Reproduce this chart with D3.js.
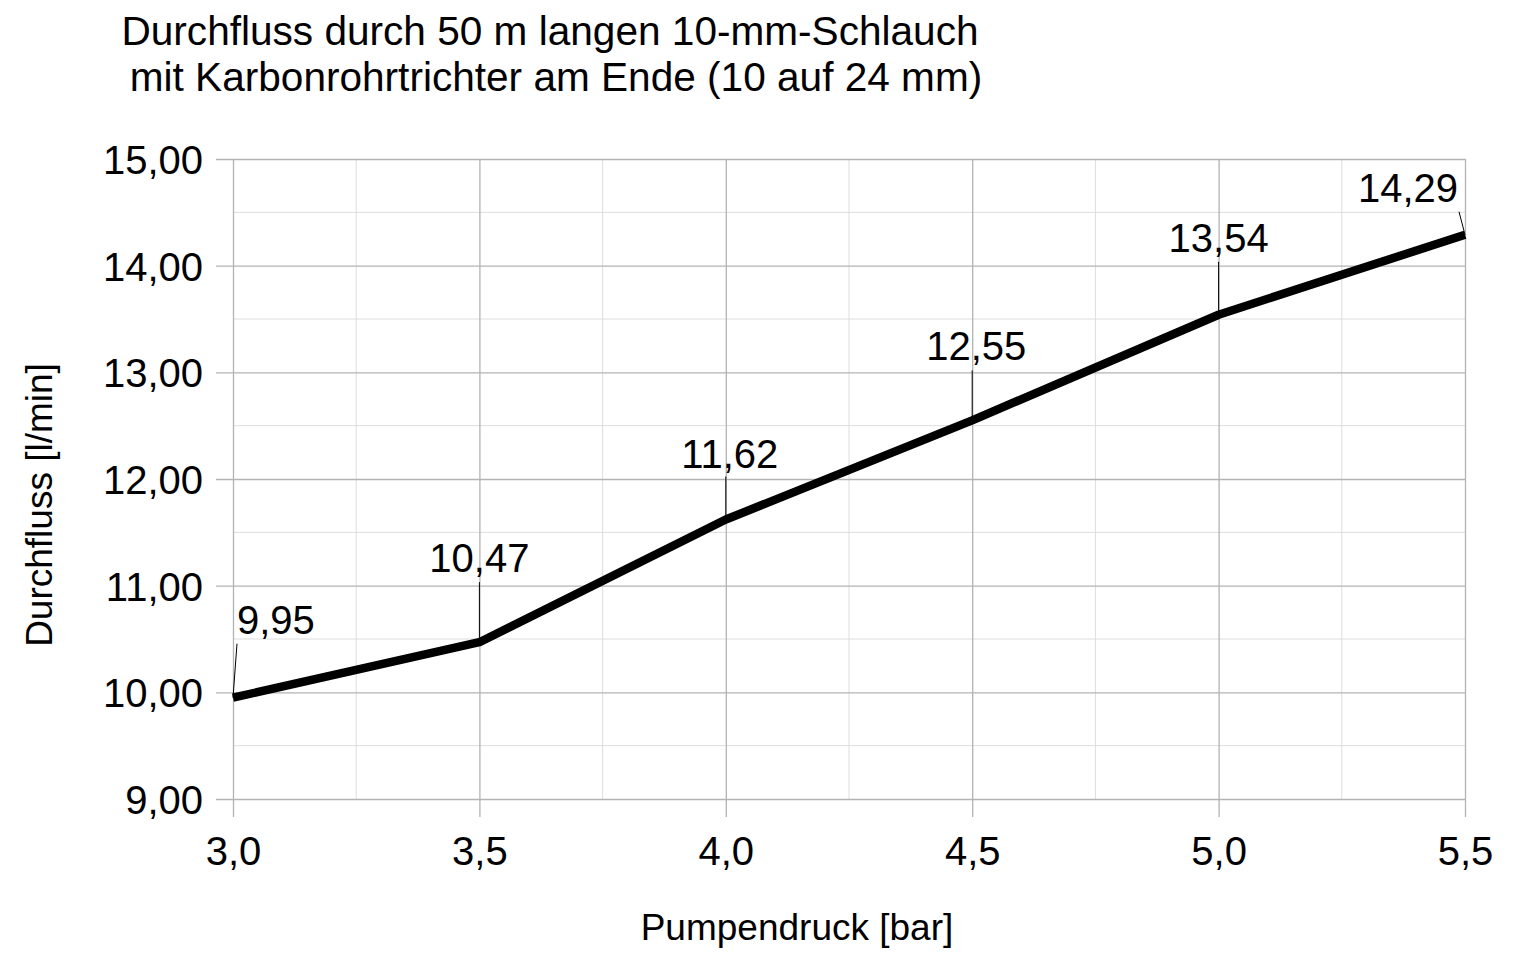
<!DOCTYPE html>
<html>
<head>
<meta charset="utf-8">
<script src="https://cdn.jsdelivr.net/npm/d3@7"></script>
<style>
  html, body { margin: 0; padding: 0; background: #fff; }
  svg text { font-family: "Liberation Sans", Arial, sans-serif; fill: #000; }
</style>
</head>
<body>
<script>
// Pumpendruck in bar
var pressure = [3.0, 3.5, 4.0, 4.5, 5.0, 5.5];
// Durchfluss in l/min
var flow = [9.95, 10.47, 11.62, 12.55, 13.54, 14.29];

var xTicks = [3.0, 3.5, 4.0, 4.5, 5.0, 5.5];
var yTicks = [9, 10, 11, 12, 13, 14, 15];

var titleLines = ["Durchfluss durch 50 m langen 10-mm-Schlauch",
                  "mit Karbonrohrtrichter am Ende (10 auf 24 mm)"];

var WIDTH = 1513;
var HEIGHT = 963;
var plotL = 233, plotR = 1465, plotT = 159, plotB = 799;

// where each data label sits, relative to its point
var labelPlace = [
  {dx: 4, dy: -64, anchor: "start", lx: 4, ly: -54},
  {dx: 0, dy: -70, anchor: "middle", lx: 0, ly: -60},
  {dx: 4, dy: -52, anchor: "middle", lx: 0, ly: -43},
  {dx: 4, dy: -60, anchor: "middle", lx: 0, ly: -50},
  {dx: 0, dy: -63, anchor: "middle", lx: 0, ly: -53},
  {dx: -7, dy: -33, anchor: "end", lx: -6, ly: -23}
];

var fmt = function(v, d) { return v.toFixed(d).replace(".", ","); };

var x = d3.scaleLinear().domain([3.0, 5.5]).range([plotL, plotR]);
var y = d3.scaleLinear().domain([9, 15]).range([plotB, plotT]);

var svg = d3.select("body").append("svg")
    .attr("width", WIDTH)
    .attr("height", HEIGHT);

// minor grid
svg.append("g")
  .selectAll("line")
  .data(d3.range(9.5, 15, 1))
  .enter().append("line")
    .attr("x1", plotL).attr("x2", plotR)
    .attr("y1", function(d) { return y(d); })
    .attr("y2", function(d) { return y(d); })
    .attr("stroke", "#dddddd").attr("stroke-width", 1);
svg.append("g")
  .selectAll("line")
  .data(d3.range(3.25, 5.5, 0.5))
  .enter().append("line")
    .attr("y1", plotT).attr("y2", plotB)
    .attr("x1", function(d) { return x(d); })
    .attr("x2", function(d) { return x(d); })
    .attr("stroke", "#dddddd").attr("stroke-width", 1);

// major grid + axes, ticks reach out past the plot
var yAxis = d3.axisLeft(y)
    .tickValues(yTicks)
    .tickSizeInner(-(plotR - plotL) - 17)
    .tickSizeOuter(0)
    .tickPadding(13)
    .tickFormat(function(d) { return fmt(d, 2); });
var gy = svg.append("g")
    .attr("transform", "translate(" + (plotL - 17) + ",0)")
    .call(yAxis);
gy.select(".domain").remove();
gy.selectAll(".tick line").attr("stroke", "#b3b3b3").attr("stroke-width", 1.3);
gy.selectAll(".tick text")
    .attr("font-size", 40)
    .attr("dy", "0.36em")
    .attr("font-family", "Liberation Sans, Arial, sans-serif")
    .attr("fill", "#000");

var xAxis = d3.axisBottom(x)
    .tickValues(xTicks)
    .tickSizeInner(-(plotB - plotT) - 18)
    .tickSizeOuter(0)
    .tickPadding(20)
    .tickFormat(function(d) { return fmt(d, 1); });
var gx = svg.append("g")
    .attr("transform", "translate(0," + (plotB + 18) + ")")
    .call(xAxis);
gx.select(".domain").remove();
gx.selectAll(".tick line").attr("stroke", "#b3b3b3").attr("stroke-width", 1.3);
gx.selectAll(".tick text")
    .attr("font-size", 40)
    .attr("dy", "0.71em")
    .attr("font-family", "Liberation Sans, Arial, sans-serif")
    .attr("fill", "#000");

// data label leader lines
var pts = pressure.map(function(p, i) { return {x: p, y: flow[i], i: i}; });

svg.append("g")
  .selectAll("line")
  .data(pts)
  .enter().append("line")
    .attr("x1", function(d) { return x(d.x); })
    .attr("y1", function(d) { return y(d.y); })
    .attr("x2", function(d) { return x(d.x) + labelPlace[d.i].lx; })
    .attr("y2", function(d) { return y(d.y) + labelPlace[d.i].ly; })
    .attr("stroke", "#000").attr("stroke-width", 1);

// the series line
var line = d3.line()
    .x(function(d) { return x(d.x); })
    .y(function(d) { return y(d.y); });

svg.append("path")
    .datum(pts)
    .attr("d", line)
    .attr("fill", "none")
    .attr("stroke", "#000")
    .attr("stroke-width", 8.5)
    .attr("stroke-linejoin", "round");

// data labels
svg.append("g")
  .selectAll("text")
  .data(pts)
  .enter().append("text")
    .attr("x", function(d) { return x(d.x) + labelPlace[d.i].dx; })
    .attr("y", function(d) { return y(d.y) + labelPlace[d.i].dy; })
    .attr("text-anchor", function(d) { return labelPlace[d.i].anchor; })
    .attr("font-size", 40)
    .text(function(d) { return fmt(d.y, 2); });

// title
svg.append("g")
  .selectAll("text")
  .data(titleLines)
  .enter().append("text")
    .attr("x", function(d, i) { return i === 0 ? 550 : 556; })
    .attr("y", function(d, i) { return 45 + i * 46; })
    .attr("text-anchor", "middle")
    .attr("font-size", 40.6)
    .text(function(d) { return d; });

// axis titles
svg.append("text")
    .attr("x", 797)
    .attr("y", 940)
    .attr("text-anchor", "middle")
    .attr("font-size", 37)
    .text("Pumpendruck [bar]");

svg.append("text")
    .attr("transform", "translate(52,505) rotate(-90)")
    .attr("text-anchor", "middle")
    .attr("font-size", 37)
    .text("Durchfluss [l/min]");
</script>
</body>
</html>
